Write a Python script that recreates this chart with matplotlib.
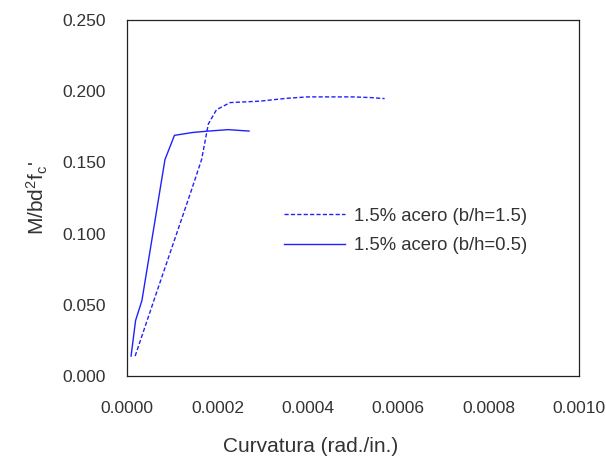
import matplotlib.pyplot as plt

# curvature (rad./in.) vs M/bd^2 f'c
curv_b15 = [1.8e-5, 6.9e-5, 1.12e-4, 1.42e-4, 1.65e-4, 1.80e-4, 1.98e-4, 2.28e-4,
            2.94e-4, 3.53e-4, 4.0e-4, 4.64e-4, 5.0e-4, 5.4e-4, 5.7e-4]
m_b15 = [0.014, 0.062, 0.102, 0.130, 0.152, 0.177, 0.187, 0.192,
         0.193, 0.195, 0.196, 0.196, 0.196, 0.1955, 0.1948]

curv_b05 = [9.0e-6, 1.9e-5, 3.3e-5, 8.4e-5, 1.05e-4, 1.45e-4, 1.8e-4, 2.24e-4, 2.7e-4]
m_b05 = [0.014, 0.039, 0.053, 0.152, 0.169, 0.171, 0.172, 0.173, 0.172]

labels = ['1.5% acero (b/h=1.5)', '1.5% acero (b/h=0.5)']
xticks = [0.0, 0.0002, 0.0004, 0.0006, 0.0008, 0.0010]
yticks = [0.0, 0.05, 0.10, 0.15, 0.20, 0.25]

plt.rcParams['font.family'] = ['Liberation Sans', 'DejaVu Sans']
plt.rcParams['mathtext.fontset'] = 'custom'
plt.rcParams['mathtext.rm'] = 'Liberation Sans'
plt.rcParams['mathtext.it'] = 'Liberation Sans'
txt = '#333333'

fig = plt.figure(figsize=(6.06, 4.57), dpi=100)
ax = fig.add_axes([127/606, 1 - 376/457, 452/606, 356/457])

ax.plot(curv_b15, m_b15, color='#2020ff', lw=1.0, ls=(0, (3, 1.6)), label=labels[0])
ax.plot(curv_b05, m_b05, color='#2020ff', lw=1.0, label=labels[1])

ax.set_xlim(0, 0.001)
ax.set_ylim(0, 0.25)
ax.set_xticks(xticks)
ax.set_xticklabels(['%.4f' % v for v in xticks])
ax.set_yticks(yticks)
ax.set_yticklabels(['%.3f' % v for v in yticks])
ax.tick_params(length=0, labelsize=12.5, colors=txt)
ax.tick_params(axis='x', pad=18)
ax.tick_params(axis='y', pad=15)
for s in ax.spines.values():
    s.set_color('#222222')
    s.set_linewidth(0.9)

ax.set_xlabel('Curvatura (rad./in.)', fontsize=15, color=txt)
ax.xaxis.set_label_coords((311 - 127) / 452, -0.17)
ax.set_ylabel(r"M/bd$^{2}$f$_{c}$'", fontsize=15, color=txt)
ax.yaxis.set_label_coords(-0.17, 0.5)

ax.legend(loc='upper left', bbox_to_anchor=(0.31, 0.52), frameon=False,
          fontsize=13.3, labelcolor=txt, handlelength=3.3, handletextpad=0.5,
          labelspacing=0.7)

fig.savefig('out.png', dpi=100)
